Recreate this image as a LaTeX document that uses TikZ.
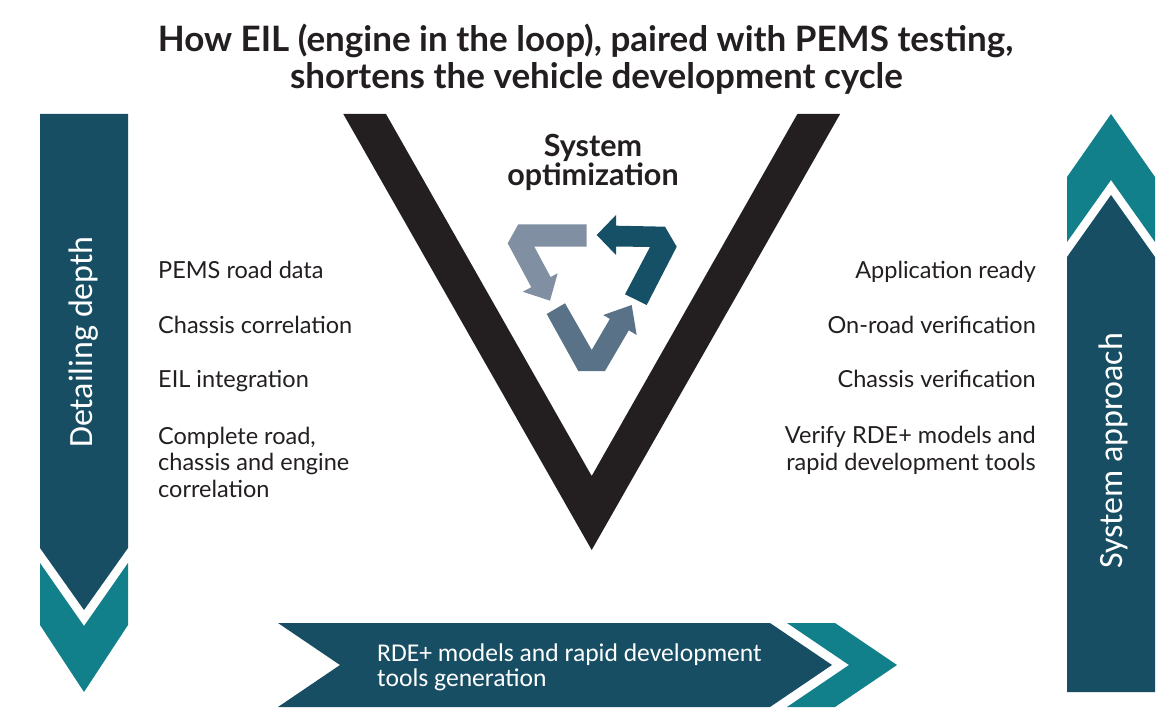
\documentclass[tikz,border=0pt]{standalone}
\usepackage{fontspec}
\setmainfont{Lato}
\newfontfamily\calib{Carlito}
\definecolor{ink}{RGB}{35,31,32}
\definecolor{deepblue}{RGB}{23,78,99}
\definecolor{tealc}{RGB}{17,128,138}
\definecolor{cycA}{RGB}{128,144,162}
\definecolor{cycB}{RGB}{90,114,136}
\definecolor{cycC}{RGB}{21,80,102}
\begin{document}
\begin{tikzpicture}[x=1pt,y=-1pt,
    lbl/.style={font=\fontsize{23.5}{26.5}\selectfont,text=ink,inner sep=0pt},
    bandtxt/.style={font=\calib\fontsize{34}{36}\selectfont,text=white,inner sep=0pt}]
    \fill[white] (0,0) rectangle (1171,714);
    \useasboundingbox (0,0) rectangle (1171,714);
    % title
    \node[font=\bfseries\fontsize{35}{37}\selectfont,text=ink,anchor=base,inner sep=0pt] (title1) at (585.5,52) {How EIL (engine in the loop), paired with PEMS testing,};
    \node[font=\bfseries\fontsize{35}{37}\selectfont,text=ink,anchor=base,inner sep=0pt] (title2) at (596.5,89) {shortens the vehicle development cycle};
    % the V
    \fill[ink] (343.3,114) -- (386,114) -- (591.7,476) -- (797.4,114) -- (840.1,114) -- (591.7,550) -- cycle;
    \node[font=\bfseries\fontsize{30.5}{29}\selectfont,text=ink,align=center,anchor=base,inner sep=0pt] (sysopt) at (593,186) {System\\optimization};
    % cycle arrows
    \fill[cycA] (518.3,224.3) -- (586.7,224.3) -- (586.7,246.7) -- (534.3,246.7) -- (550.6,277) -- (557.7,273.3)
        -- (550,300.7) -- (522.7,291.7) -- (531.3,287.2) -- (507.7,243.3) -- cycle;
    \fill[cycC] (596.7,235) -- (616,215) -- (616,225.7) -- (665,226.7) -- (676.7,246.7) -- (646.7,305)
        -- (625,294.3) -- (650,247) -- (616,246.5) -- (616,255) -- cycle;
    \fill[cycB] (546.7,314) -- (565,303.3) -- (591.7,350) -- (609.9,318.9) -- (603.3,315) -- (631.7,305)
        -- (636.7,335) -- (628.8,330.3) -- (605,371) -- (578.3,371) -- cycle;
    % left band
    \fill[deepblue] (40,114) -- (128,114) -- (128,548) -- (84,610) -- (40,548) -- cycle;
    \fill[tealc] (40,563) -- (84,626) -- (128,563) -- (128,625) -- (84,692) -- (40,625) -- cycle;
    \node[bandtxt,rotate=90] (depth) at (84,342) {Detailing depth};
    % right band
    \fill[tealc] (1111,114) -- (1155,177) -- (1155,242) -- (1111,180) -- (1067,242) -- (1067,177) -- cycle;
    \fill[deepblue] (1111,195) -- (1155,257) -- (1155,692) -- (1067,692) -- (1067,257) -- cycle;
    \node[bandtxt,rotate=90] (approach) at (1113,451) {System approach};
    % bottom band
    \fill[deepblue] (278,623) -- (770,623) -- (832,665) -- (770,707) -- (278,707) -- (340,665) -- cycle;
    \fill[tealc] (787,623) -- (835,623) -- (897,665) -- (835,707) -- (787,707) -- (849,665) -- cycle;
    \node[font=\calib\fontsize{25.6}{25}\selectfont,text=white,align=left,anchor=base west,inner sep=0pt] (rde) at (377,686) {RDE+ models and rapid development\\tools generation};
    % left labels
    \node[lbl,anchor=base west] (pems) at (158,279) {PEMS road data};
    \node[lbl,anchor=base west] (chcor) at (158,334) {Chassis correlation};
    \node[lbl,anchor=base west] (eil) at (158,388) {EIL integration};
    \node[lbl,anchor=base west,align=left] (full) at (158,497) {Complete road,\\chassis and engine\\correlation};
    % right labels
    \node[lbl,anchor=base east] (ready) at (1036,279) {Application ready};
    \node[lbl,anchor=base east] (onroad) at (1036,334) {On-road verification};
    \node[lbl,anchor=base east] (chver) at (1036,388) {Chassis verification};
    \node[lbl,anchor=base east,align=right] (verify) at (1036,470) {Verify RDE+ models and\\rapid development tools};
\end{tikzpicture}
\end{document}
